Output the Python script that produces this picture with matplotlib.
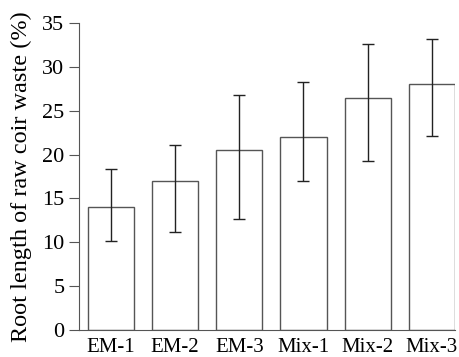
import numpy as np
import matplotlib.pyplot as plt

plt.rcParams['font.family'] = ['Liberation Serif', 'DejaVu Serif']

labels = ["EM-1", "EM-2", "EM-3", "Mix-1", "Mix-2", "Mix-3"]
means = [14.0, 17.0, 20.5, 22.0, 26.5, 28.0]
err_low = [10.1, 11.2, 12.7, 17.0, 19.3, 22.1]
err_high = [18.3, 21.1, 26.8, 28.3, 32.6, 33.2]

x = np.arange(len(labels))
yerr = [np.array(means) - np.array(err_low), np.array(err_high) - np.array(means)]

fig = plt.figure(figsize=(4.59, 3.57), dpi=100)
ax = fig.add_axes([0.172, 0.0756, 0.819, 0.86])

ax.bar(x, means, width=0.72, color='white', edgecolor='#555555', linewidth=1.0)
ax.errorbar(x, means, yerr=yerr, fmt='none', ecolor='#222222', elinewidth=1.0,
            capsize=4, capthick=1.0)

ax.set_xlim(-0.5, 5.36)
ax.set_ylim(0, 35)
ax.set_yticks(range(0, 36, 5))
ax.set_xticks(x)
ax.set_xticklabels(labels)
ax.tick_params(axis='x', length=0, labelsize=15, pad=6)
ax.tick_params(axis='y', direction='out', length=7, width=0.8, color='#555555', labelsize=16, pad=3.5)
ax.spines['top'].set_visible(False)
ax.spines['right'].set_visible(False)
ax.spines['left'].set_color('#555555')
ax.spines['bottom'].set_color('#555555')
ax.set_ylabel("Root length of raw coir waste (%)", fontsize=17.5, labelpad=7)

fig.savefig("out.png", dpi=100)
